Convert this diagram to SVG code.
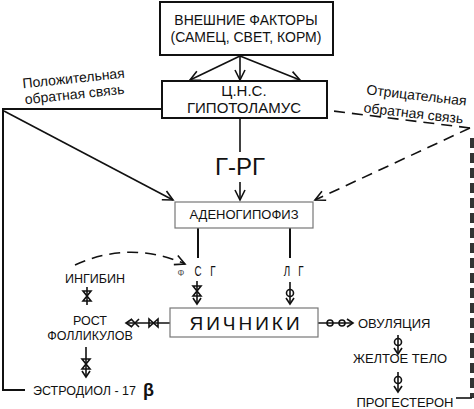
<svg xmlns="http://www.w3.org/2000/svg" width="474" height="409" viewBox="0 0 474 409">
<style>
text{font-family:"Liberation Sans",Arial,sans-serif;fill:#111}
.ln{stroke:#111;stroke-width:1.6;fill:none}
.th{stroke:#111;stroke-width:2;fill:none}
.ds{stroke:#111;stroke-width:1.6;fill:none;stroke-dasharray:11 7}
.sym{stroke:#111;stroke-width:1.6;fill:none}
.box{fill:#fff;stroke:#111;stroke-width:2}
.gbox{fill:#fff;stroke:#777;stroke-width:1.2}
</style>
<defs>
<marker id="ah" markerUnits="userSpaceOnUse" markerWidth="14" markerHeight="14" refX="11" refY="6" orient="auto" overflow="visible">
<path d="M1,1 L11,6 L1,11" fill="none" stroke="#111" stroke-width="1.6"/>
</marker>
</defs>

<g id="connectors">
<line class="ln" x1="240" y1="56" x2="190" y2="80" marker-end="url(#ah)"/>
<line class="ln" x1="240" y1="56" x2="240" y2="80" marker-end="url(#ah)"/>
<line class="ln" x1="240" y1="56" x2="300" y2="80" marker-end="url(#ah)"/>
<polyline class="th" points="25,390 3,390 3,109 183,109" marker-end="url(#ah)"/>
<line class="ln" x1="4" y1="111" x2="173" y2="200" marker-end="url(#ah)"/>
<line class="ds" x1="470" y1="128" x2="317" y2="109" marker-end="url(#ah)"/>
<line class="ds" x1="470" y1="128" x2="315" y2="200" marker-end="url(#ah)"/>
<line x1="472" y1="138" x2="472" y2="398" stroke="#333" stroke-width="4" stroke-dasharray="10 5"/>
<line class="ln" x1="456" y1="398" x2="472" y2="398"/>
<line class="ln" x1="240" y1="118" x2="240" y2="152"/>
<line class="ln" x1="240" y1="182" x2="240" y2="200" marker-end="url(#ah)"/>
<line class="th" x1="198" y1="228" x2="198" y2="258"/>
<line class="th" x1="290" y1="228" x2="290" y2="258"/>
<path class="ds" d="M75,265 Q130,240 185,264" marker-end="url(#ah)"/>
<!-- FSG symbol -->
<line class="sym" x1="197" y1="281" x2="197" y2="304"/>
<path class="sym" d="M193,286 L201,286 L193,296 L201,296 Z"/>
<path class="sym" d="M193,298 L197,304 L201,298"/>
<!-- LG symbol -->
<line class="sym" x1="290" y1="282" x2="290" y2="304"/>
<circle class="sym" cx="290" cy="293" r="3.5"/>
<path class="sym" d="M286,298 L290,304 L294,298"/>
<!-- ovary to ovulation -->
<line class="sym" x1="318" y1="323" x2="353" y2="323"/>
<circle class="sym" cx="330" cy="323" r="3"/>
<circle class="sym" cx="342" cy="323" r="3"/>
<path class="sym" d="M347,319 L353,323 L347,327"/>
<!-- ovulation -> yellow body -->
<line class="sym" x1="398" y1="335" x2="398" y2="354"/>
<circle class="sym" cx="398" cy="342" r="3.5"/>
<path class="sym" d="M394,348 L398,354 L402,348"/>
<line class="sym" x1="398" y1="372" x2="398" y2="392"/>
<circle class="sym" cx="398" cy="380" r="3.5"/>
<path class="sym" d="M394,386 L398,392 L402,386"/>
<!-- ingibin symbol -->
<line class="sym" x1="87" y1="287" x2="87" y2="305"/>
<path class="sym" d="M83,291 L91,291 L83,301 L91,301 Z"/>
<!-- ovary to follicle growth -->
<line class="sym" x1="170" y1="323" x2="126" y2="323"/>
<path class="sym" d="M149,319 L149,327 L158,319 L158,327 Z"/>
<path class="sym" d="M132,319 L126,323 L132,327"/>
<path class="sym" d="M131,319 L139,327 M139,319 L131,327"/>
<!-- follicle growth to estradiol -->
<line class="sym" x1="86" y1="347" x2="86" y2="377"/>
<path class="sym" d="M82,359 L90,359 L82,369 L90,369 Z"/>
<path class="sym" d="M82,371 L86,377 L90,371"/>
</g>

<g id="external">
<rect class="box" x="160" y="2" width="173" height="53"/>
<text x="246" y="25" font-size="14" text-anchor="middle">ВНЕШНИЕ ФАКТОРЫ</text>
<text x="246" y="42" font-size="14" text-anchor="middle">(САМЕЦ, СВЕТ, КОРМ)</text>
</g>

<g id="cns">
<rect class="box" x="162" y="81" width="165" height="37"/>
<text x="244" y="96" font-size="15" text-anchor="middle">Ц.Н.С.</text>
<text x="244" y="113" font-size="15" text-anchor="middle">ГИПОТОЛАМУС</text>
</g>

<g id="pos-feedback">
<text transform="translate(74,83) rotate(-6)" font-size="14" text-anchor="middle">Положительная</text>
<text transform="translate(75,99) rotate(-6)" font-size="14" text-anchor="middle">обратная связь</text>
</g>

<g id="neg-feedback">
<text transform="translate(416,100) rotate(6.5)" font-size="14" text-anchor="middle">Отрицательная</text>
<text transform="translate(413,118) rotate(6.5)" font-size="14" text-anchor="middle">обратная связь</text>
</g>

<g id="grg">
<text x="240" y="175" font-size="24" text-anchor="middle">Г-РГ</text>
</g>

<g id="adenohypophysis">
<rect class="gbox" x="175" y="202" width="138" height="26"/>
<text x="244" y="219" font-size="13" text-anchor="middle">АДЕНОГИПОФИЗ</text>
</g>

<g id="fsg">
<text x="181" y="276" font-size="9" fill="#555" text-anchor="middle" style="fill:#555">Ф</text>
<text transform="translate(198,276) scale(0.7,1)" font-size="14" text-anchor="middle">С</text>
<text transform="translate(213,276) scale(0.7,1)" font-size="14" text-anchor="middle">Г</text>
</g>

<g id="lg">
<text transform="translate(287,276) scale(0.7,1)" font-size="14" text-anchor="middle">Л</text>
<text transform="translate(301,276) scale(0.7,1)" font-size="14" text-anchor="middle">Г</text>
</g>

<g id="ovaries">
<rect class="gbox" x="170" y="308" width="148" height="29"/>
<text x="246" y="330" font-size="19" letter-spacing="3" text-anchor="middle">ЯИЧНИКИ</text>
</g>

<g id="inhibin">
<text x="95" y="283" font-size="12.5" text-anchor="middle">ИНГИБИН</text>
</g>

<g id="follicle-growth">
<text x="90" y="325" font-size="12.5" text-anchor="middle">РОСТ</text>
<text x="90" y="340" font-size="12.5" text-anchor="middle">ФОЛЛИКУЛОВ</text>
</g>

<g id="estradiol">
<text x="33" y="395" font-size="12.5">ЭСТРОДИОЛ - 17</text>
<text x="143" y="396" font-size="18" font-weight="bold">β</text>
</g>

<g id="ovulation">
<text x="358" y="328" font-size="13">ОВУЛЯЦИЯ</text>
</g>

<g id="yellow-body">
<text x="400" y="363" font-size="13" text-anchor="middle">ЖЕЛТОЕ ТЕЛО</text>
</g>

<g id="progesterone">
<text x="405" y="407" font-size="13" text-anchor="middle">ПРОГЕСТЕРОН</text>
</g>
</svg>
